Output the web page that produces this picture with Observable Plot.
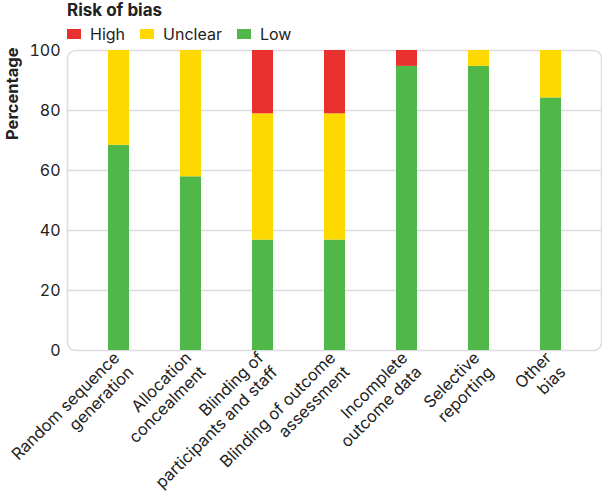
<!DOCTYPE html>
<html>
<head>
<meta charset="utf-8">
<script src="https://cdn.jsdelivr.net/npm/d3@7"></script>
<script src="https://cdn.jsdelivr.net/npm/@observablehq/plot@0.6"></script>
<style>
  html, body { margin: 0; padding: 0; background: #fff; }
  body { width: 602px; height: 495px; overflow: hidden; font-family: Inter, "DejaVu Sans", sans-serif; color: #222; position: relative; }
  #legend { position: absolute; left: 67px; top: 1px; }
  #legend .title { font-weight: bold; font-size: 17px; line-height: 20px; margin-top: -1px; }
  #legend .items { display: flex; align-items: center; margin-top: 5px; font-size: 16px; line-height: 18px; }
  #legend .item { display: flex; align-items: center; margin-right: 15px; }
  #legend .sw { width: 14px; height: 10px; margin-right: 9px; }
  #chart { position: absolute; left: 0; top: 40px; }
</style>
</head>
<body>
<div id="legend"></div>
<div id="chart"></div>
<script>
const categories = [
  "Random sequence\ngeneration",
  "Allocation\nconcealment",
  "Blinding of\nparticipants and staff",
  "Blinding of outcome\nassessment",
  "Incomplete\noutcome data",
  "Selective\nreporting",
  "Other\nbias"
];
const lowValues = [68.4, 57.9, 36.8, 36.8, 94.7, 94.7, 84.2];
const unclearValues = [31.6, 42.1, 42.1, 42.1, 0, 5.3, 15.8];
const highValues = [0, 0, 21.1, 21.1, 5.3, 0, 0];
const riskLevels = ["High", "Unclear", "Low"];
const riskColors = ["#e8312f", "#fed900", "#50b848"];
const yTicks = [0, 20, 40, 60, 80, 100];
const gridValues = [20, 40, 60, 80];

const data = [];
categories.forEach((c, i) => {
  data.push({cat: c, risk: "Low", value: lowValues[i]});
  data.push({cat: c, risk: "Unclear", value: unclearValues[i]});
  data.push({cat: c, risk: "High", value: highValues[i]});
});

// legend
const legend = document.getElementById("legend");
const t = document.createElement("div");
t.className = "title";
t.textContent = "Risk of bias";
legend.appendChild(t);
const items = document.createElement("div");
items.className = "items";
riskLevels.forEach((r, i) => {
  const it = document.createElement("div");
  it.className = "item";
  const sw = document.createElement("span");
  sw.className = "sw";
  sw.style.background = riskColors[i];
  const lb = document.createElement("span");
  lb.textContent = r;
  it.appendChild(sw);
  it.appendChild(lb);
  items.appendChild(it);
});
legend.appendChild(items);

const gridColor = "#dcdce5";
const chart = Plot.plot({
  width: 602,
  height: 455,
  marginLeft: 67,
  marginRight: 1,
  marginTop: 10,
  marginBottom: 145,
  style: {fontFamily: "Inter, sans-serif", fontSize: "16px", color: "#222", background: "transparent"},
  x: {domain: categories, paddingInner: 0.71, paddingOuter: 0, insetLeft: 38, insetRight: 38, label: null},
  y: {domain: [0, 100], label: null},
  color: {domain: riskLevels, range: riskColors},
  marks: [
    Plot.ruleY(gridValues, {stroke: gridColor, strokeWidth: 1.5}),
    Plot.frame({stroke: gridColor, strokeWidth: 1.5, rx: 8}),
    Plot.barY(data, {x: "cat", y: "value", fill: "risk", order: ["Low", "Unclear", "High"]}),
    Plot.axisY({ticks: yTicks, tickSize: 0, tickPadding: 7, label: null, fontSize: 16}),
    Plot.axisX({tickSize: 0, tickRotate: -45, tickPadding: 11, dx: 4, label: null, fontSize: 16.4, lineHeight: 1.22}),
    Plot.text(["Percentage"], {text: d => d, frameAnchor: "top-left", rotate: -90, textAnchor: "end", dx: -61, dy: -3, fontWeight: "bold", fontSize: 16.5})
  ]
});
document.getElementById("chart").appendChild(chart);
</script>
</body>
</html>
